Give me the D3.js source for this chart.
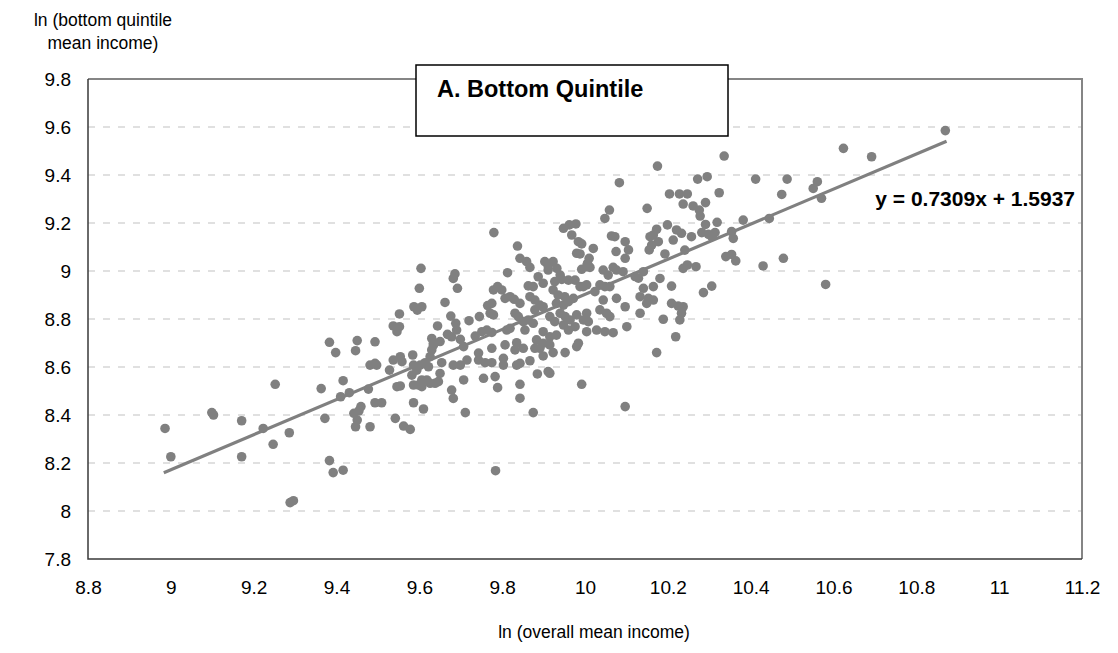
<!DOCTYPE html>
<html lang="en">
<head>
  <meta charset="UTF-8" />
  <title>A. Bottom Quintile</title>
  <script src="https://d3js.org/d3.v7.min.js"></script>
  <style>
    body { margin: 0; background: #fff; font-family: "Liberation Sans", Arial, sans-serif; }
    .tick text { font-family: "Liberation Sans", Arial, sans-serif; fill: #000; }
  </style>
</head>
<body>
  <svg id="chart" width="1118" height="653"></svg>

  <script>
  // ln(overall mean income), ln(bottom quintile mean income)
  const obs = [
    [8.986,8.344],[9.000,8.226],[9.099,8.410],[9.103,8.400],[9.171,8.376],[9.171,8.226],
    [9.223,8.344],[9.252,8.528],[9.247,8.278],[9.286,8.326],[9.288,8.035],[9.296,8.043],
    [9.363,8.510],[9.372,8.386],[9.383,8.703],[9.398,8.660],[9.383,8.210],[9.392,8.160],
    [9.416,8.170],[9.416,8.543],[9.410,8.476],[9.431,8.493],[9.450,8.710],[9.446,8.668],
    [9.481,8.608],[9.477,8.508],[9.459,8.435],[9.454,8.417],[9.442,8.407],[9.450,8.379],
    [9.446,8.351],[9.481,8.351],
    [9.604,9.011],[9.686,8.988],[9.682,8.969],[9.600,8.928],[9.692,8.928],[9.662,8.869],
    [9.587,8.851],[9.606,8.851],[9.595,8.837],[9.552,8.821],[9.537,8.771],[9.552,8.768],
    [9.546,8.747],[9.644,8.771],[9.676,8.812],[9.688,8.782],[9.690,8.754],[9.668,8.736],
    [9.678,8.726],[9.630,8.719],[9.634,8.699],[9.650,8.706],[9.699,8.715],[9.707,8.685],
    [9.720,8.793],[9.745,8.810],[9.765,8.856],[9.775,8.865],[9.771,8.824],[9.779,8.817],
    [9.779,8.921],[9.789,8.935],[9.799,8.921],[9.807,8.886],[9.819,8.893],[9.829,8.882],
    [9.813,8.993],[9.819,8.761],[9.811,8.754],[9.807,8.692],[9.735,8.729],[9.751,8.747],
    [9.763,8.754],[9.775,8.744],[9.775,8.678],[9.743,8.658],[9.743,8.629],[9.759,8.618],
    [9.775,8.618],[9.803,8.636],[9.803,8.608],[9.783,8.560],[9.789,8.514],[9.755,8.553],
    [9.715,8.629],[9.682,8.608],[9.699,8.608],[9.707,8.546],[9.678,8.504],[9.682,8.469],
    [9.711,8.410],[9.654,8.618],[9.650,8.573],[9.646,8.539],[9.638,8.532],[9.626,8.532],
    [9.618,8.546],[9.622,8.601],[9.614,8.618],[9.626,8.643],[9.630,8.671],[9.634,8.691],
    [9.602,8.608],[9.594,8.587],[9.586,8.608],[9.582,8.566],[9.586,8.525],[9.598,8.525],
    [9.606,8.546],[9.606,8.518],[9.584,8.650],[9.554,8.643],[9.558,8.622],[9.537,8.629],
    [9.528,8.587],[9.493,8.615],[9.497,8.608],[9.493,8.705],[9.546,8.518],[9.554,8.521],
    [9.493,8.451],[9.509,8.451],[9.586,8.451],[9.610,8.425],[9.542,8.386],[9.562,8.354],
    [9.578,8.340],[9.784,8.168],[9.780,9.160],
    [10.083,9.368],[10.150,9.261],[10.059,9.254],[10.048,9.219],[9.948,9.178],[9.962,9.192],
    [9.978,9.196],[9.837,9.104],[9.968,9.150],[9.984,9.122],[9.992,9.113],[9.980,9.074],
    [9.988,9.071],[10.020,9.094],[10.010,9.053],[10.006,9.032],[10.064,9.146],[10.072,9.143],
    [10.097,9.122],[10.105,9.088],[10.097,9.053],[10.075,9.081],[10.155,9.088],[9.843,9.053],
    [9.859,9.039],[9.867,9.015],[9.903,9.039],[9.923,9.039],[9.932,9.011],[9.940,8.983],
    [9.911,9.021],[9.911,9.004],[9.992,9.007],[10.004,9.018],[10.012,9.015],[10.044,9.004],
    [10.056,8.983],[10.068,9.015],[10.076,9.004],[10.092,8.997],[10.121,8.977],[10.141,8.997],
    [10.129,8.970],[9.887,8.976],[9.899,8.949],[9.927,8.956],[9.944,8.965],[9.960,8.962],
    [9.976,8.962],[9.863,8.938],[9.875,8.935],[9.843,8.865],[9.867,8.893],[9.879,8.879],
    [9.891,8.858],[9.899,8.851],[9.879,8.838],[9.923,8.921],[9.935,8.900],[9.951,8.893],
    [9.931,8.865],[9.948,8.858],[9.960,8.872],[9.972,8.886],[9.988,8.935],[9.996,8.935],
    [10.004,8.942],[10.024,8.914],[10.036,8.942],[10.048,8.935],[10.060,8.935],[10.044,8.879],
    [10.076,8.886],[10.097,8.851],[10.133,8.893],[10.141,8.928],[10.153,8.886],[10.149,8.865],
    [10.133,8.824],[10.101,8.768],[10.036,8.838],[10.052,8.824],[10.060,8.810],[10.004,8.824],
    [9.996,8.796],[10.008,8.789],[9.831,8.824],[9.839,8.810],[9.851,8.789],[9.863,8.796],
    [9.875,8.782],[9.915,8.810],[9.927,8.789],[9.940,8.824],[9.952,8.810],[9.964,8.796],
    [9.980,8.817],[9.948,8.775],[9.960,8.754],[9.976,8.768],[9.899,8.747],[9.915,8.726],
    [9.931,8.733],[10.004,8.747],[10.028,8.754],
    [9.855,8.754],[10.048,8.747],[10.068,8.743],[9.835,8.701],[9.831,8.671],[9.851,8.678],
    [9.883,8.713],[9.899,8.699],[9.915,8.692],[9.891,8.678],[9.879,8.678],[9.923,8.660],
    [9.952,8.660],[9.899,8.646],[9.984,8.699],[9.980,8.685],[10.173,8.660],[9.867,8.626],
    [9.835,8.608],[9.843,8.615],[9.885,8.571],[9.911,8.581],[9.915,8.574],[9.843,8.528],
    [9.992,8.528],[9.843,8.470],[9.875,8.410],[10.097,8.435],
    [10.336,9.479],[10.175,9.437],[10.272,9.383],[10.295,9.393],[10.412,9.383],[10.488,9.383],
    [10.204,9.321],[10.228,9.321],[10.247,9.321],[10.324,9.326],[10.475,9.319],[10.237,9.279],
    [10.261,9.271],[10.276,9.254],[10.278,9.229],[10.291,9.285],[10.199,9.192],[10.221,9.171],
    [10.233,9.157],[10.173,9.174],[10.165,9.150],[10.177,9.122],[10.157,9.143],[10.161,9.108],
    [10.213,9.129],[10.257,9.143],[10.291,9.194],[10.282,9.160],[10.298,9.153],[10.314,9.160],
    [10.306,9.143],[10.319,9.203],[10.354,9.164],[10.358,9.136],[10.382,9.212],[10.445,9.219],
    [10.241,9.087],[10.193,9.071],[10.340,9.060],[10.354,9.069],[10.364,9.042],[10.430,9.021],
    [10.479,9.053],[10.237,9.011],[10.247,9.025],[10.268,9.018],[10.181,8.969],[10.209,8.937],
    [10.306,8.937],[10.286,8.910],[10.165,8.935],[10.165,8.879],[10.209,8.865],[10.225,8.854],
    [10.237,8.851],[10.233,8.824],[10.189,8.799],[10.229,8.796],[10.219,8.726],
    [10.870,9.585],[10.624,9.511],[10.692,9.476],[10.561,9.372],[10.551,9.344],[10.571,9.303],
    [10.581,8.944]
  ];

  const xTicks = [8.8, 9, 9.2, 9.4, 9.6, 9.8, 10, 10.2, 10.4, 10.6, 10.8, 11, 11.2];
  const yTicks = [7.8, 8, 8.2, 8.4, 8.6, 8.8, 9, 9.2, 9.4, 9.6, 9.8];
  const trendCoef = [0.7309, 1.5937];   // slope, intercept
  const trendRange = [8.983, 10.873];

  const svg = d3.select("#chart"),
        margin = { top: 79, right: 36, bottom: 94, left: 88 },
        width = +svg.attr("width") - margin.left - margin.right,
        height = +svg.attr("height") - margin.top - margin.bottom,
        g = svg.append("g").attr("transform", `translate(${margin.left},${margin.top})`);

  const x = d3.scaleLinear().domain([8.8, 11.2]).range([0, width]);
  const y = d3.scaleLinear().domain([7.8, 9.8]).range([height, 0]);
  const fmt = d => String(+d.toFixed(1));

  // dashed gridlines
  g.append("g").selectAll("line")
    .data(yTicks.filter(v => v > 7.8 && v < 9.8))
    .join("line")
      .attr("x1", 0).attr("x2", width)
      .attr("y1", d => y(d)).attr("y2", d => y(d))
      .attr("stroke", "#d6d6d6").attr("stroke-width", 1.5)
      .attr("stroke-dasharray", "7,8");

  // plot frame: grey top/right, dark axes left/bottom
  g.append("path")
    .attr("d", `M0,0H${width}V${height}`)
    .attr("fill", "none").attr("stroke", "#858585").attr("stroke-width", 2);
  g.append("path")
    .attr("d", `M0,0V${height}H${width}`)
    .attr("fill", "none").attr("stroke", "#3a3a3a").attr("stroke-width", 1.5);

  const xAxis = g.append("g")
    .attr("transform", `translate(0,${height})`)
    .call(d3.axisBottom(x).tickValues(xTicks).tickSize(0).tickPadding(22).tickFormat(fmt));
  const yAxis = g.append("g")
    .call(d3.axisLeft(y).tickValues(yTicks).tickSize(0).tickPadding(17).tickFormat(fmt));
  [xAxis, yAxis].forEach(a => {
    a.select(".domain").remove();
    a.selectAll("text").style("font-size", "19px");
  });

  // points
  g.append("g").selectAll("circle")
    .data(obs)
    .join("circle")
      .attr("cx", d => x(d[0]))
      .attr("cy", d => y(d[1]))
      .attr("r", 4.8)
      .attr("fill", "#808080");

  // linear trend
  g.append("line")
    .attr("x1", x(trendRange[0])).attr("y1", y(trendCoef[0] * trendRange[0] + trendCoef[1]))
    .attr("x2", x(trendRange[1])).attr("y2", y(trendCoef[0] * trendRange[1] + trendCoef[1]))
    .attr("stroke", "#808080").attr("stroke-width", 3.2);

  svg.append("text")
    .attr("x", 1075).attr("y", 206)
    .attr("text-anchor", "end")
    .style("font-size", "21px").style("font-weight", "bold")
    .text("y = 0.7309x + 1.5937");

  // panel title box
  svg.append("rect")
    .attr("x", 416).attr("y", 65).attr("width", 312).attr("height", 71)
    .attr("fill", "#fff").attr("stroke", "#000").attr("stroke-width", 1.5);
  svg.append("text")
    .attr("x", 437).attr("y", 97)
    .style("font-size", "23.5px").style("font-weight", "bold")
    .text("A. Bottom Quintile");

  // axis titles
  const yt = svg.append("text")
    .attr("text-anchor", "middle")
    .style("font-size", "17.5px");
  yt.append("tspan").attr("x", 103).attr("y", 26).text("ln (bottom quintile");
  yt.append("tspan").attr("x", 103).attr("y", 49).text("mean income)");

  svg.append("text")
    .attr("x", 594).attr("y", 638)
    .attr("text-anchor", "middle")
    .style("font-size", "17.5px")
    .text("ln (overall mean income)");
  </script>
</body>
</html>
